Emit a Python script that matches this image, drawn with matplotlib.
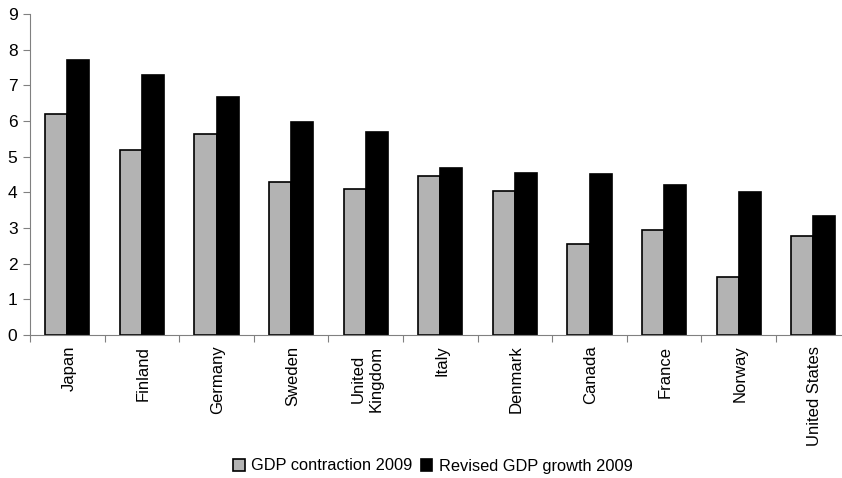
import numpy as np
import matplotlib
matplotlib.use('Agg')
import matplotlib.pyplot as plt

plt.rcParams['font.family'] = ['Liberation Sans', 'DejaVu Sans']

countries = ['Japan', 'Finland', 'Germany', 'Sweden', 'United\nKingdom', 'Italy',
             'Denmark', 'Canada', 'France', 'Norway', 'United States']
contraction = [6.19, 5.19, 5.64, 4.29, 4.10, 4.46, 4.05, 2.55, 2.95, 1.64, 2.78]
revised = [7.70, 7.29, 6.66, 5.97, 5.70, 4.69, 4.55, 4.51, 4.20, 4.01, 3.33]

fig = plt.figure(figsize=(8.42, 4.78), dpi=100)
# axes runs a little past the right edge of the figure
ax = fig.add_axes([30 / 842, 143 / 478, 820.6 / 842, 321 / 478])

x = np.arange(len(countries))
w = 0.295
ax.bar(x - w / 2, contraction, w, color='#b3b3b3', edgecolor='black', linewidth=1.2,
       label='GDP contraction 2009')
ax.bar(x + w / 2, revised, w, color='black', edgecolor='black', linewidth=1.2,
       label='Revised GDP growth 2009')

ax.set_xlim(-0.5, len(countries) - 0.5)
ax.set_ylim(0, 9)
ax.set_yticks(range(10))
ax.tick_params(axis='y', labelsize=12.5, length=5, color='#808080', pad=4)

# category labels sit between tick marks
ax.set_xticks(np.arange(len(countries) + 1) - 0.5)
ax.set_xticklabels([])
ax.tick_params(axis='x', length=5, color='#808080')
for i, name in enumerate(countries):
    ax.text(i + 0.02, -0.3, name, rotation=90, ha='center', va='top',
            multialignment='center', fontsize=12)

for s in ['top', 'right']:
    ax.spines[s].set_visible(False)
for s in ['left', 'bottom']:
    ax.spines[s].set_color('#808080')

fig.legend(loc='center', bbox_to_anchor=(433 / 842, 1 - 466 / 478), ncol=2,
           frameon=False, fontsize=11.8, handlelength=0.7, handleheight=0.7,
           handletextpad=0.4, columnspacing=0.5)

fig.savefig('out.png', dpi=100)
